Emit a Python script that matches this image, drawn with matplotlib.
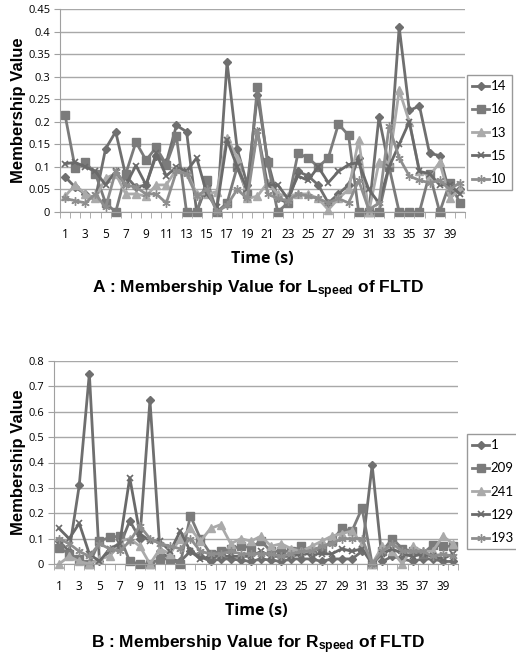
import matplotlib
matplotlib.use("Agg")
import matplotlib.pyplot as plt
from matplotlib.ticker import FuncFormatter, MultipleLocator, FixedLocator

plt.rcParams['mathtext.fontset'] = 'custom'
plt.rcParams['mathtext.rm'] = 'Liberation Sans:bold'
plt.rcParams['mathtext.it'] = 'Liberation Sans:bold'
plt.rcParams['mathtext.bf'] = 'Liberation Sans:bold'

time = list(range(1, 41))
tick_labels = [str(t) for t in range(1, 40, 2)]

# Panel A: Lspeed
a_names = ["14", "16", "13", "15", "10"]
a_14 = [0.078, 0.055, 0.04, 0.03, 0.14, 0.178, 0.08, 0.055, 0.06, 0.125,
        0.11, 0.192, 0.178, 0.0, 0.06, 0.0, 0.332, 0.14, 0.06, 0.26,
        0.115, 0.03, 0.02, 0.09, 0.08, 0.06, 0.02, 0.04, 0.06, 0.12,
        0.0, 0.21, 0.1, 0.41, 0.225, 0.235, 0.13, 0.125, 0.04, 0.05]
a_16 = [0.215, 0.097, 0.11, 0.085, 0.02, 0.0, 0.085, 0.155, 0.115, 0.143,
        0.105, 0.168, 0.0, 0.0, 0.07, 0.0, 0.02, 0.1, 0.04, 0.278,
        0.11, 0.0, 0.02, 0.13, 0.12, 0.1, 0.12, 0.195, 0.17, 0.0,
        0.0, 0.0, 0.1, 0.0, 0.0, 0.0, 0.085, 0.0, 0.065, 0.02]
a_13 = [0.035, 0.06, 0.04, 0.03, 0.075, 0.085, 0.04, 0.04, 0.035, 0.06,
        0.06, 0.095, 0.09, 0.04, 0.04, 0.045, 0.165, 0.12, 0.03, 0.035,
        0.065, 0.04, 0.035, 0.04, 0.04, 0.03, 0.005, 0.03, 0.05, 0.16,
        0.0, 0.11, 0.11, 0.27, 0.2, 0.09, 0.08, 0.11, 0.03, 0.05]
a_15 = [0.107, 0.11, 0.1, 0.09, 0.06, 0.09, 0.06, 0.103, 0.06, 0.13,
        0.08, 0.1, 0.09, 0.12, 0.04, 0.01, 0.16, 0.1, 0.05, 0.18,
        0.06, 0.06, 0.03, 0.08, 0.07, 0.1, 0.065, 0.09, 0.105, 0.11,
        0.05, 0.02, 0.1, 0.15, 0.2, 0.09, 0.085, 0.06, 0.06, 0.04]
a_10 = [0.03, 0.025, 0.02, 0.04, 0.01, 0.09, 0.06, 0.055, 0.04, 0.04,
        0.02, 0.09, 0.085, 0.035, 0.05, 0.0, 0.015, 0.05, 0.03, 0.18,
        0.04, 0.03, 0.025, 0.04, 0.035, 0.03, 0.02, 0.03, 0.02, 0.07,
        0.005, 0.02, 0.19, 0.12, 0.08, 0.07, 0.065, 0.07, 0.05, 0.065]

# Panel B: Rspeed
b_names = ["1", "209", "241", "129", "193"]
b_1 = [0.09, 0.05, 0.31, 0.75, 0.01, 0.05, 0.07, 0.17, 0.1, 0.645,
       0.05, 0.02, 0.01, 0.05, 0.03, 0.01, 0.02, 0.02, 0.015, 0.01,
       0.02, 0.015, 0.01, 0.02, 0.02, 0.02, 0.01, 0.02, 0.02, 0.02,
       0.05, 0.39, 0.01, 0.03, 0.02, 0.01, 0.02, 0.02, 0.01, 0.01]
b_209 = [0.065, 0.04, 0.02, 0.0, 0.09, 0.105, 0.11, 0.01, 0.0, 0.0,
         0.02, 0.02, 0.0, 0.19, 0.1, 0.04, 0.05, 0.06, 0.07, 0.065,
         0.09, 0.05, 0.05, 0.05, 0.07, 0.05, 0.06, 0.09, 0.14, 0.13,
         0.22, 0.0, 0.05, 0.1, 0.06, 0.05, 0.04, 0.075, 0.07, 0.07]
b_241 = [0.0, 0.03, 0.01, 0.0, 0.02, 0.03, 0.09, 0.1, 0.07, 0.0,
         0.06, 0.04, 0.1, 0.14, 0.09, 0.14, 0.155, 0.08, 0.1, 0.09,
         0.11, 0.07, 0.08, 0.06, 0.05, 0.07, 0.09, 0.11, 0.12, 0.13,
         0.08, 0.0, 0.07, 0.05, 0.0, 0.07, 0.05, 0.05, 0.11, 0.08]
b_129 = [0.14, 0.1, 0.16, 0.04, 0.01, 0.06, 0.08, 0.34, 0.12, 0.09,
         0.09, 0.05, 0.13, 0.05, 0.02, 0.03, 0.03, 0.03, 0.03, 0.03,
         0.05, 0.03, 0.03, 0.03, 0.04, 0.04, 0.04, 0.04, 0.06, 0.05,
         0.06, 0.0, 0.04, 0.06, 0.04, 0.03, 0.04, 0.03, 0.02, 0.04]
b_193 = [0.1, 0.08, 0.05, 0.03, 0.08, 0.06, 0.05, 0.09, 0.15, 0.1,
         0.08, 0.07, 0.06, 0.1, 0.05, 0.04, 0.04, 0.05, 0.04, 0.04,
         0.04, 0.04, 0.03, 0.04, 0.05, 0.05, 0.07, 0.08, 0.1, 0.1,
         0.1, 0.0, 0.05, 0.08, 0.05, 0.05, 0.05, 0.03, 0.04, 0.03]

styles = [
    dict(color="#6f6f6f", marker="D", ms=4.5),
    dict(color="#7b7b7b", marker="s", ms=5.5),
    dict(color="#aaaaaa", marker="^", ms=5.5),
    dict(color="#6a6a6a", marker="x", ms=5, mew=1.2),
    dict(color="#8e8e8e", marker=(6, 2, 0), ms=6, mew=1.0),
]

fig = plt.figure(figsize=(5.16, 6.59), dpi=100)
W, H = 516, 659


def fx(px):
    return px / W


def fy(py):
    return 1 - py / H


def setup(ax, ymax, ystep):
    ax.set_xlim(0.5, 40.5)
    ax.set_ylim(0, ymax)
    ax.yaxis.set_major_locator(MultipleLocator(ystep))
    ax.yaxis.set_major_formatter(FuncFormatter(lambda v, p: f"{round(v, 4):g}"))
    ax.xaxis.set_major_locator(FixedLocator(list(range(1, 40, 2))))
    ax.set_xticklabels(tick_labels)
    ax.xaxis.set_minor_locator(FixedLocator([i + 0.5 for i in range(0, 41)]))
    ax.tick_params(axis="x", which="major", length=0, pad=11.5, labelsize=8.5)
    ax.tick_params(axis="x", which="minor", length=4, direction="out", color="#a0a0a0")
    ax.tick_params(axis="y", length=4, direction="out", color="#a0a0a0", labelsize=8, pad=3)
    for lab in ax.get_xticklabels() + ax.get_yticklabels():
        lab.set_family("Open Sans")
    for s in ["top", "right"]:
        ax.spines[s].set_visible(False)
    for s in ["left", "bottom"]:
        ax.spines[s].set_color("#a0a0a0")
    ax.grid(axis="y", color="#a8a8a8", linewidth=1)
    ax.set_axisbelow(True)
    ax.set_ylabel("Membership Value", fontsize=12, fontweight="bold", family="Liberation Sans", labelpad=1.5)
    ax.set_xlabel("Time (s)", fontsize=11.5, fontweight="bold", family="Open Sans", labelpad=7)


leg_kw = dict(loc="upper left", bbox_transform=fig.transFigure, frameon=True, fancybox=False,
              edgecolor="#808080", prop=dict(family="Lato", size=9.5),
              handlelength=1.3, handletextpad=0.1, labelspacing=0.85, borderpad=0.4, borderaxespad=0)

# Panel A
axA = fig.add_axes([fx(60), fy(212), fx(465 - 60), (212 - 9) / H])
setup(axA, 0.45, 0.05)
for name, vals, st in zip(a_names, [a_14, a_16, a_13, a_15, a_10], styles):
    axA.plot(time, vals, label=name, lw=2, clip_on=False, **st)
axA.legend(bbox_to_anchor=(fx(467), fy(75)), **leg_kw)

# Panel B
axB = fig.add_axes([fx(54), fy(564), fx(458 - 54), (564 - 361) / H])
setup(axB, 0.8, 0.1)
for name, vals, st in zip(b_names, [b_1, b_209, b_241, b_129, b_193], styles):
    axB.plot(time, vals, label=name, lw=2, clip_on=False, **st)
axB.legend(bbox_to_anchor=(fx(467), fy(434)), **leg_kw)

fig.text(0.5, fy(290), r"A : Membership Value for L$_{\mathrm{speed}}$ of FLTD", ha="center", va="center",
         fontsize=12.5, fontweight="bold", family="Liberation Sans")
fig.text(0.5, fy(645), r"B : Membership Value for R$_{\mathrm{speed}}$ of FLTD", ha="center", va="center",
         fontsize=12.5, fontweight="bold", family="Liberation Sans")

fig.savefig("out.png", dpi=100)
